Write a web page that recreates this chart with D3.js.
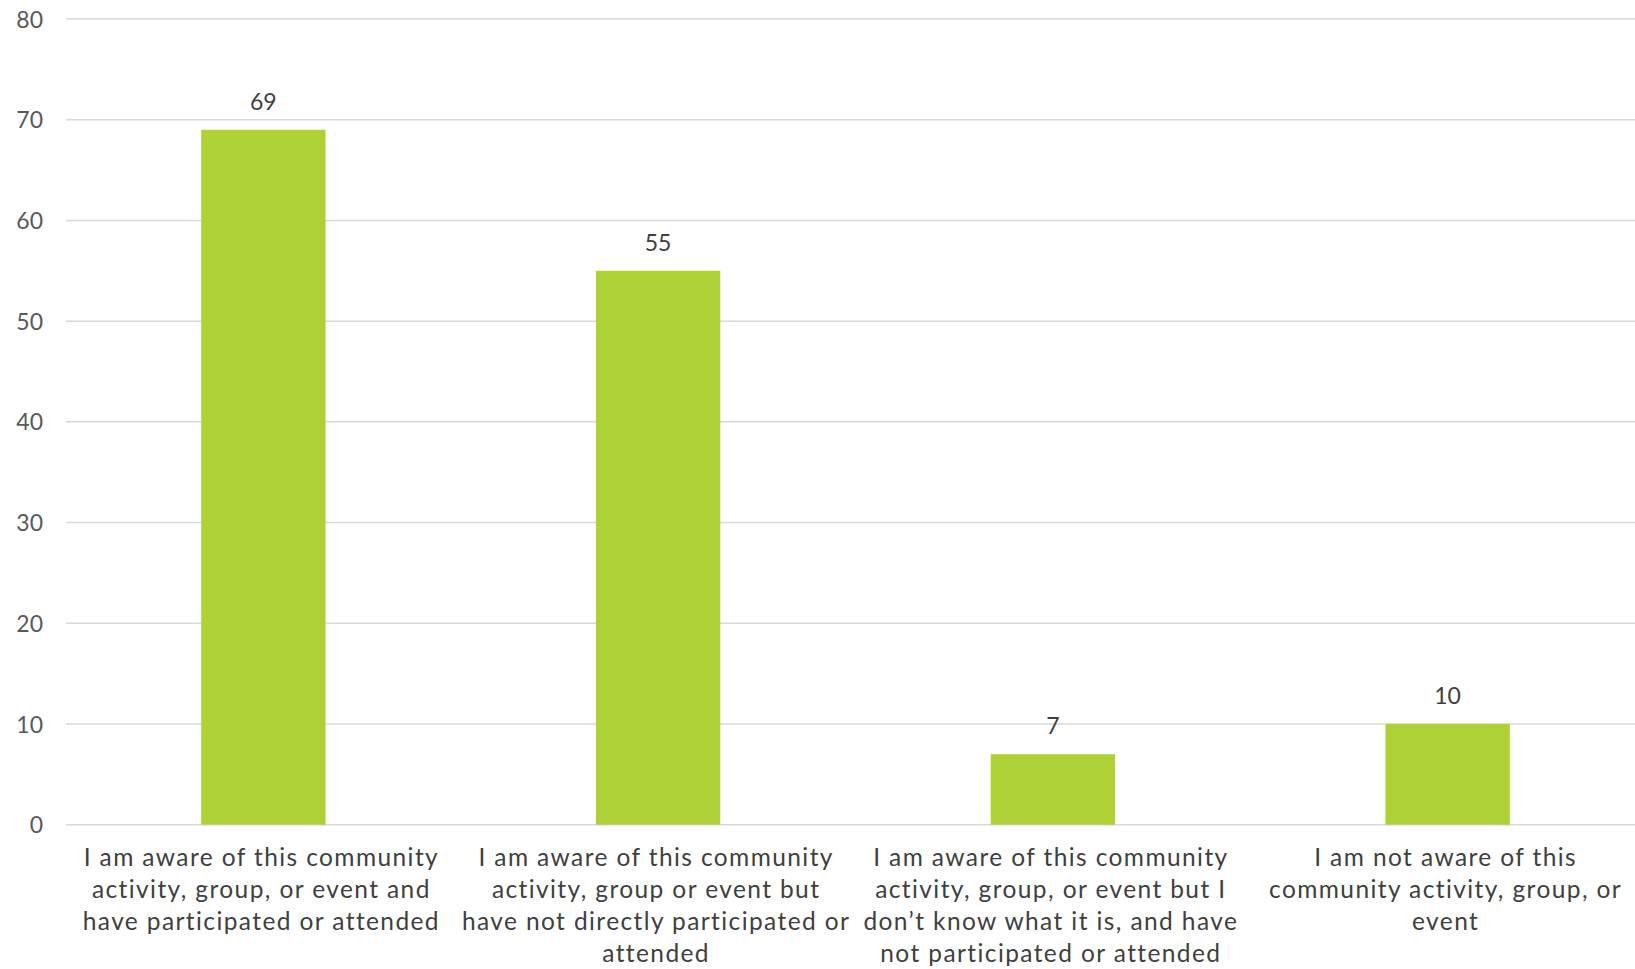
<!DOCTYPE html>
<html><head><meta charset="utf-8">
<script src="https://cdn.jsdelivr.net/npm/d3@7"></script>
<style>body{margin:0;background:#fff;} svg{display:block;}</style>
</head><body>
<svg id="chart" width="1635" height="969"></svg>
<script>
const categories = [
  "I am aware of this community activity, group, or event and have participated or attended",
  "I am aware of this community activity, group or event but have not directly participated or attended",
  "I am aware of this community activity, group, or event but I don’t know what it is, and have not participated or attended",
  "I am not aware of this community activity, group, or event"
];
const categoryLines = [
  ["I am aware of this community", "activity, group, or event and", "have participated or attended"],
  ["I am aware of this community", "activity, group or event but", "have not directly participated or", "attended"],
  ["I am aware of this community", "activity, group, or event but I", "don’t know what it is, and have", "not participated or attended"],
  ["I am not aware of this", "community activity, group, or", "event"]
];
const values = [69, 55, 7, 10];
const yTicks = [0, 10, 20, 30, 40, 50, 60, 70, 80];

(function () {
const svg = d3.select("#chart");
const font = "Lato, 'Open Sans', sans-serif";
const mLeft = 66, mRight = 1645, mTop = 19, mBottom = 824.7;

const x = d3.scaleBand().domain(categories).range([mLeft, mRight]).paddingInner(0.685).paddingOuter(0.3425);
const y = d3.scaleLinear().domain([0, 80]).range([mBottom, mTop]);

// gridlines
svg.append("g").selectAll("line").data(yTicks).join("line")
  .attr("x1", mLeft).attr("x2", 1635)
  .attr("y1", d => y(d)).attr("y2", d => y(d))
  .attr("stroke", "#d9d9d9").attr("stroke-width", 1.5);

// y axis labels
const yAxis = d3.axisLeft(y).tickValues(yTicks).tickSize(0).tickPadding(0);
const ga = svg.append("g").attr("transform", `translate(43,0)`).call(yAxis);
ga.select(".domain").remove();
ga.selectAll("text").attr("font-family", font).attr("font-size", 23).attr("fill", "#595959").attr("dy", "0.35em");

// bars
svg.append("g").selectAll("rect").data(values).join("rect")
  .attr("x", (d, i) => x(categories[i]))
  .attr("width", x.bandwidth())
  .attr("y", d => y(d))
  .attr("height", d => y(0) - y(d))
  .attr("fill", "#aed136");

// data labels
svg.append("g").selectAll("text").data(values).join("text")
  .attr("x", (d, i) => x(categories[i]) + x.bandwidth() / 2)
  .attr("y", d => y(d) - 20)
  .attr("text-anchor", "middle")
  .attr("font-family", font).attr("font-size", 23).attr("fill", "#404040")
  .text(d => d);

// category labels
const cl = svg.append("g");
categoryLines.forEach((lines, i) => {
  const cx = x(categories[i]) + x.bandwidth() / 2;
  const t = cl.append("text").attr("text-anchor", "middle")
    .attr("font-family", font).attr("font-size", 24.5).attr("letter-spacing", 1.4).attr("fill", "#404040");
  lines.forEach((ln, j) => {
    t.append("tspan").attr("x", cx - 2).attr("y", 866 + j * 32).text(ln);
  });
});
})();
</script>
</body></html>
